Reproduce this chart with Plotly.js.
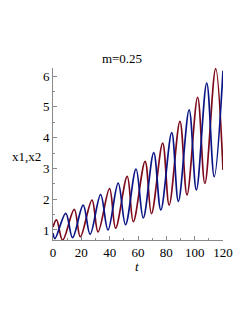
<!DOCTYPE html>
<html>
<head>
<meta charset="utf-8">
<script src="https://cdn.plot.ly/plotly-3.0.1.min.js"></script>
<style>
html,body{margin:0;padding:0;background:#fff;}
#chart{width:249px;height:323px;}
</style>
</head>
<body>
<div id="chart"></div>
<script>
// x1 (red): extrema and end points
const t1 = [0, 2.5, 6.8, 15.0, 19.3, 27.5, 31.8, 39.9, 44.2, 52.4, 56.7, 65.0, 69.5, 77.4, 82.0, 89.6, 94.6, 102.1, 107.2, 114.8, 120];
const x1 = [1.1, 1.33, 0.67, 1.67, 0.78, 1.97, 0.94, 2.34, 1.06, 2.74, 1.27, 3.23, 1.53, 3.82, 1.81, 4.53, 2.14, 5.31, 2.51, 6.24, 2.95];
// x2 (blue)
const t2 = [0, 1.4, 9.0, 13.8, 21.3, 26.2, 33.6, 38.8, 46.0, 51.2, 58.6, 63.7, 71.1, 76.1, 83.8, 88.5, 96.1, 101.2, 108.5, 113.8, 120];
const x2 = [0.9, 0.72, 1.54, 0.75, 1.81, 0.86, 2.15, 1.0, 2.52, 1.17, 2.98, 1.39, 3.51, 1.65, 4.16, 1.93, 4.9, 2.3, 5.77, 2.73, 6.17];

const titleText = "m=0.25";
const xLabel = "t";
const yLabel = "x1,x2";
const xTicks = [0, 20, 40, 60, 80, 100, 120];
const yTicks = [1, 2, 3, 4, 5, 6];

const serif = "Liberation Serif, Times New Roman, serif";
const axisColor = "#8a8a8a";

const traces = [
  {x: t1, y: x1, mode: "lines", line: {color: "#7d0a1c", width: 1.7, shape: "spline", smoothing: 1}, hoverinfo: "skip"},
  {x: t2, y: x2, mode: "lines", line: {color: "#0a1585", width: 1.7, shape: "spline", smoothing: 1}, hoverinfo: "skip"}
];

const layout = {
  width: 249, height: 323,
  margin: {l: 53, r: 26, t: 68, b: 83},
  paper_bgcolor: "#fff", plot_bgcolor: "#fff",
  showlegend: false,
  title: {text: titleText, font: {family: serif, size: 13, color: "#000"}, xref: "container", x: 122/249, xanchor: "center", yref: "container", y: 1 - 58/323, yanchor: "middle"},
  xaxis: {
    range: [0, 120], tickvals: xTicks, ticktext: xTicks.map(String),
    showgrid: false, zeroline: false, showline: true, linecolor: axisColor, linewidth: 1,
    ticks: "inside", ticklen: 4, tickcolor: axisColor, tickwidth: 1,
    minor: {dtick: 10, ticks: "inside", ticklen: 2, tickcolor: axisColor, showgrid: false},
    tickfont: {family: serif, size: 13, color: "#000"}, fixedrange: true
  },
  yaxis: {
    range: [0.675, 6.26], tickvals: yTicks, ticktext: yTicks.map(String),
    showgrid: false, zeroline: false, showline: true, linecolor: axisColor, linewidth: 1,
    ticks: "inside", ticklen: 4, tickcolor: axisColor, tickwidth: 1,
    minor: {dtick: 0.5, ticks: "inside", ticklen: 2, tickcolor: axisColor, showgrid: false},
    tickfont: {family: serif, size: 13, color: "#000"}, fixedrange: true
  },
  annotations: [
    {text: "<i>" + xLabel + "</i>", xref: "paper", yref: "paper", x: (137-53)/170, y: (240-266)/172, xanchor: "center", yanchor: "middle", showarrow: false, font: {family: serif, size: 13, color: "#000"}},
    {text: yLabel, xref: "paper", yref: "paper", x: (26-53)/170, y: (240-156)/172, xanchor: "center", yanchor: "middle", showarrow: false, font: {family: serif, size: 13, color: "#000"}}
  ]
};

Plotly.newPlot("chart", traces, layout, {staticPlot: true, displayModeBar: false});
</script>
</body>
</html>
